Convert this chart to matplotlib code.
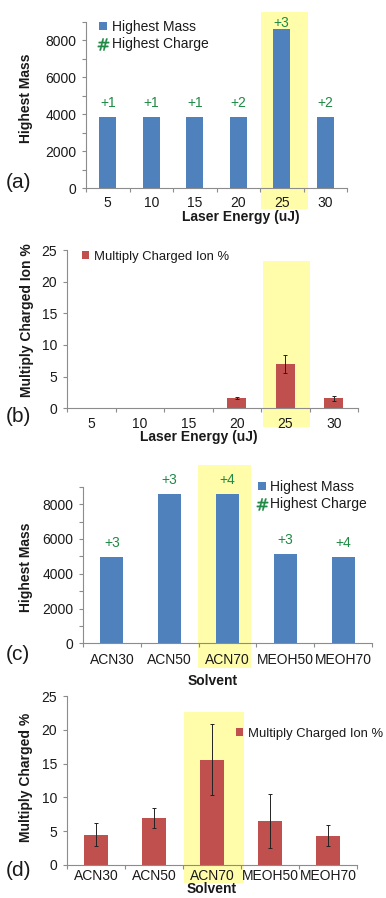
import numpy as np
import matplotlib
matplotlib.use('Agg')
import matplotlib.pyplot as plt
from matplotlib.patches import Rectangle, Patch
from matplotlib.lines import Line2D
from matplotlib.ticker import MultipleLocator, FixedLocator
from matplotlib.transforms import blended_transform_factory

energy = ['5', '10', '15', '20', '25', '30']
mass_energy = [3850, 3850, 3850, 3850, 8600, 3850]
charge_energy = ['+1', '+1', '+1', '+2', '+3', '+2']
ion_energy = [0, 0, 0, 1.6, 7.0, 1.6]
ion_energy_err = [0, 0, 0, 0.15, 1.45, 0.4]

solvent = ['ACN30', 'ACN50', 'ACN70', 'MEOH50', 'MEOH70']
mass_solvent = [4980, 8600, 8600, 5150, 4980]
charge_solvent = ['+3', '+3', '+4', '+3', '+4']
ion_solvent = [4.5, 7.0, 15.6, 6.5, 4.3]
ion_solvent_err = [1.65, 1.5, 5.2, 4.0, 1.55]

BLUE = '#4F81BD'
RED = '#C0504D'
GREEN = '#1F8A45'
YELLOW = '#FFFDAA'
GRAY = '#8C8C8C'
FS = 10

plt.rcParams['font.family'] = ['Liberation Sans', 'DejaVu Sans']
plt.rcParams['font.size'] = FS
plt.rcParams['text.color'] = '#1a1a1a'
plt.rcParams['axes.labelcolor'] = '#1a1a1a'
plt.rcParams['xtick.labelcolor'] = '#1a1a1a'
plt.rcParams['ytick.labelcolor'] = '#1a1a1a'

W, H = 386, 898
fig = plt.figure(figsize=(W / 100, H / 100), dpi=100)


def px_axes(left, top, right, bottom):
    return fig.add_axes([left / W, (H - bottom) / H, (right - left) / W, (bottom - top) / H])


def style(ax, n, ymax, major, minor=None, xpad=6):
    ax.set_xlim(-0.5, n - 0.5)
    ax.set_ylim(0, ymax)
    for s in ['top', 'right']:
        ax.spines[s].set_visible(False)
    for s in ['left', 'bottom']:
        ax.spines[s].set_color(GRAY)
        ax.spines[s].set_linewidth(0.8)
    ax.yaxis.set_major_locator(MultipleLocator(major))
    if minor:
        ax.yaxis.set_minor_locator(MultipleLocator(minor))
    ax.xaxis.set_major_locator(FixedLocator(np.arange(n)))
    ax.xaxis.set_minor_locator(FixedLocator(np.arange(n + 1) - 0.5))
    ax.tick_params(axis='y', which='both', direction='out', length=3, width=0.8,
                   color=GRAY, pad=4, labelsize=FS)
    ax.tick_params(axis='x', which='major', length=0, pad=xpad, labelsize=FS)
    ax.tick_params(axis='x', which='minor', direction='out', length=3, width=0.8, color=GRAY)


def highlight(ax, x0, x1, y0, y1):
    tr = blended_transform_factory(ax.transData, ax.transAxes)
    ax.add_patch(Rectangle((x0, y0), x1 - x0, y1 - y0, transform=tr,
                           facecolor=YELLOW, edgecolor='none', clip_on=False, zorder=0))


def legend(ax, x, y, handles, labels, fs=FS):
    ax.legend(handles, labels, loc='upper left', bbox_to_anchor=(x / W, (H - y) / H),
              bbox_transform=fig.transFigure, frameon=False, borderpad=0, borderaxespad=0,
              handlelength=0.55, handleheight=0.55, handletextpad=0.35, labelspacing=0.25,
              fontsize=fs)


mass_handles = [Patch(facecolor=BLUE),
                Line2D([], [], marker=r'$\#$', color=GREEN, markeredgewidth=0.3,
                       linestyle='none', markersize=8.5)]
mass_labels = ['Highest Mass', 'Highest Charge']
ion_handles = [Patch(facecolor=RED)]
ion_labels = ['Multiply Charged Ion %']

# (a) highest mass vs laser energy
ax = px_axes(86, 21.7, 347, 188)
style(ax, len(energy), 9000, 2000, 1000)
highlight(ax, 3.52, 4.6, -0.126, 1.058)
x = np.arange(len(energy))
ax.bar(x, mass_energy, width=0.4, color=BLUE, zorder=2)
ytxt = np.minimum(np.array(mass_energy) + 760, 8930)
for xi, yi, lab in zip(x, ytxt, charge_energy):
    ax.text(xi, yi, lab, color=GREEN, ha='center', va='center', fontsize=FS, clip_on=False)
ax.set_xticklabels(energy)
ax.set_xlabel('Laser Energy (uJ)', fontweight='bold')
ax.xaxis.set_label_coords(0.593, -0.135)
ax.set_ylabel('Highest Mass', fontweight='bold')
ax.yaxis.set_label_coords(-0.203, 0.54)
legend(ax, 99, 20, mass_handles, mass_labels)

# (b) multiply charged ion % vs laser energy
ax = px_axes(67, 250, 358, 408.3)
style(ax, len(energy), 25, 5)
highlight(ax, 3.54, 4.51, -0.118, 0.93)
ax.bar(x, ion_energy, width=0.4, color=RED, zorder=2)
err = np.array(ion_energy_err)
m = err > 0
ax.errorbar(x[m], np.array(ion_energy)[m], yerr=err[m], fmt='none', ecolor='#222222',
            elinewidth=0.7, capsize=1.6, capthick=0.7, zorder=3)
ax.set_xticklabels(energy)
ax.set_xlabel('Laser Energy (uJ)', fontweight='bold')
ax.xaxis.set_label_coords(0.454, -0.134)
ax.set_ylabel('Multiply Charged Ion %', fontweight='bold')
ax.yaxis.set_label_coords(-0.115, 0.558)
legend(ax, 82, 251, ion_handles, ion_labels, fs=9.4)

# (c) highest mass vs solvent
ax = px_axes(83, 486.7, 372, 643.3)
style(ax, len(solvent), 9000, 2000, 1000, xpad=7)
highlight(ax, 1.49, 2.41, -0.156, 1.139)
x = np.arange(len(solvent))
ax.bar(x, mass_solvent, width=0.4, color=BLUE, zorder=2)
for xi, yi, lab in zip(x, np.array(mass_solvent) + 780, charge_solvent):
    ax.text(xi, yi, lab, color=GREEN, ha='center', va='center', fontsize=FS, clip_on=False)
ax.set_xticklabels(solvent)
ax.set_xlabel('Solvent', fontweight='bold')
ax.xaxis.set_label_coords(0.45, -0.196)
ax.set_ylabel('Highest Mass', fontweight='bold')
ax.yaxis.set_label_coords(-0.173, 0.487)
legend(ax, 258, 480, mass_handles, mass_labels)

# (d) multiply charged ion % vs solvent
ax = px_axes(67, 696, 357, 865)
style(ax, len(solvent), 25, 5, xpad=3)
highlight(ax, 1.52, 2.55, -0.107, 0.905)
ax.bar(x, ion_solvent, width=0.4, color=RED, zorder=2)
ax.errorbar(x, ion_solvent, yerr=ion_solvent_err, fmt='none', ecolor='#222222',
            elinewidth=0.7, capsize=1.6, capthick=0.7, zorder=3)
ax.set_xticklabels(solvent)
ax.set_xlabel('Solvent', fontweight='bold')
ax.xaxis.set_label_coords(0.499, -0.10)
ax.set_ylabel('Multiply Charged %', fontweight='bold')
ax.yaxis.set_label_coords(-0.117, 0.518)
legend(ax, 236, 728, ion_handles, ion_labels, fs=9.4)

for lab, yc in [('(a)', 183), ('(b)', 416.7), ('(c)', 654), ('(d)', 870)]:
    fig.text(6 / W, (H - yc) / H, lab, fontsize=15, va='center', ha='left')

fig.savefig('out.png', dpi=100)
